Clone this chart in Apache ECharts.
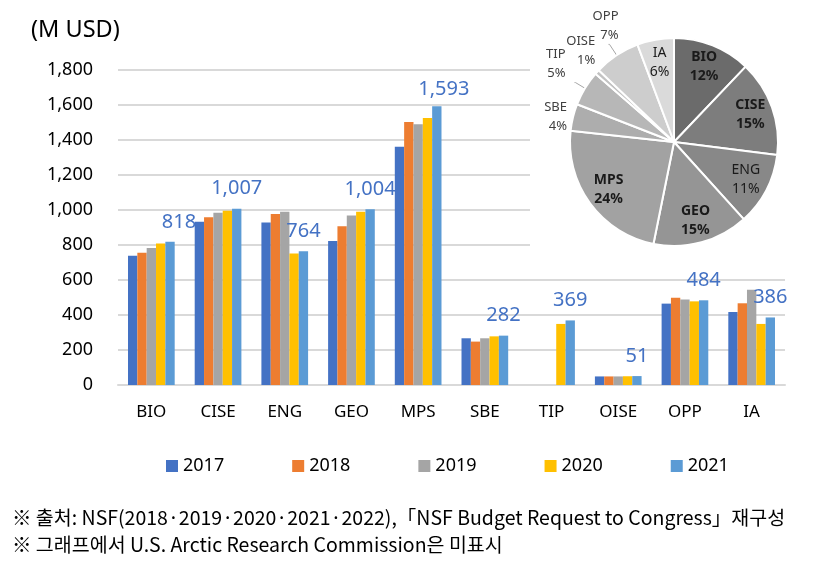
<!DOCTYPE html>
<html>
<head>
<meta charset="utf-8">
<script src="https://cdn.jsdelivr.net/npm/echarts@6/dist/echarts.min.js"></script>
<style>
html,body{margin:0;padding:0;background:#fff;}
#chart{width:830px;height:568px;}
</style>
</head>
<body>
<div id="chart"></div>
<script>
var categories = ['BIO','CISE','ENG','GEO','MPS','SBE','TIP','OISE','OPP','IA'];
var years = ['2017','2018','2019','2020','2021'];
var v2017 = [739, 933, 928, 823, 1362, 267, null, 49, 465, 417];
var v2018 = [756, 958, 977, 907, 1503, 248, null, 49, 499, 467];
var v2019 = [783, 985, 990, 968, 1490, 267, null, 49, 488, 545];
var v2020 = [808, 996, 751, 990, 1526, 278, 349, 50, 478, 349];
var v2021 = [818, 1007, 764, 1004, 1593, 282, 369, 51, 484, 386];
var yTicks = [0, 200, 400, 600, 800, 1000, 1200, 1400, 1600, 1800];
var footnote1 = '※ 출처: NSF(2018·2019·2020·2021·2022),「NSF Budget Request to Congress」재구성';
var footnote2 = '※ 그래프에서 U.S. Arctic Research Commission은 미표시';

var barColors = ['#4472C4','#ED7D31','#A5A5A5','#FFC000','#5B9BD5'];
var pieColors = ['#6b6b6b','#7d7d7d','#888888','#959595','#a2a2a2','#adadad','#b7b7b7','#c2c2c2','#cdcdcd','#dadada'];
var boldPie = {BIO:1, CISE:1, GEO:1, MPS:1};
// label placement styles for the small outside slices
var outsideStyle = {
  SBE:  { len: 2,  dist: 3,   dx: 0,  dy: 0,   va: 'middle', line: false },
  TIP:  { len: 11, dist: 9,   dx: 0,  dy: 0,   va: 'bottom', line: true },
  OISE: { len: 16, dist: 0,   dx: 11, dy: -10, va: 'middle', line: false },
  OPP:  { len: 13, dist: -10, dx: 0,  dy: 0,   va: 'bottom', line: true }
};
var labelShift = {0:[9,0], 4:[7,3]};

var FONT = '"Noto Sans", "Noto Sans CJK KR", sans-serif';
var allVals = [v2017, v2018, v2019, v2020, v2021];

function fmt(n){ return String(n).replace(/\B(?=(\d{3})+(?!\d))/g, ','); }

var series = allVals.map(function(vals, i){
  var s = {
    name: years[i], type: 'bar', data: vals,
    barGap: '0%', barCategoryGap: '30%',
    itemStyle: { color: barColors[i] },
    z: 3
  };
  if (i === 4) {
    s.data = vals.map(function(v, k){
      var d = { value: v };
      if (labelShift[k]) d.label = { offset: labelShift[k] };
      return d;
    });
    s.label = {
      show: true, position: 'top', distance: 10,
      color: '#4472C4', fontSize: 20, fontFamily: FONT,
      formatter: function(p){ return fmt(p.value); }
    };
  }
  return s;
});

var pieData = categories.map(function(c, k){
  return { name: c, value: v2021[k], itemStyle: { color: pieColors[k] } };
});

series.push({
  type: 'pie', name: 'share', center: [674, 142], radius: 104,
  startAngle: 90, clockwise: true, percentPrecision: 0, z: 5,
  silent: true, avoidLabelOverlap: false,
  itemStyle: { borderColor: '#fff', borderWidth: 2 },
  data: pieData.map(function(d){
    var o = Object.assign({}, d);
    var st = outsideStyle[d.name];
    if (st) {
      o.label = { show: true, distanceToLabelLine: st.dist };
      o.labelLine = { show: true, length: st.len, length2: 1,
        lineStyle: { opacity: st.line ? 1 : 0 } };
    } else {
      o.label = { show: false };
      o.labelLine = { show: false };
    }
    return o;
  }),
  label: {
    position: 'outside', formatter: '{b}\n{d}%', fontSize: 13, lineHeight: 19,
    color: '#404040', fontFamily: FONT
  },
  labelLine: { length: 12, length2: 1, minTurnAngle: 0, maxSurfaceAngle: 180,
    lineStyle: { color: '#a6a6a6', width: 1 } },
  labelLayout: function(p){
    var st = outsideStyle[categories[p.dataIndex]];
    var r = { hideOverlap: false, moveOverlap: null };
    if (st) {
      if (st.dx) r.dx = st.dx;
      if (st.dy) r.dy = st.dy;
      r.verticalAlign = st.va;
    }
    return r;
  }
});

series.push({
  type: 'pie', name: 'shareLabels', center: [674, 142], radius: [52, 104],
  startAngle: 90, clockwise: true, percentPrecision: 0, z: 6,
  silent: true,
  itemStyle: { color: 'rgba(0,0,0,0)', borderWidth: 0 },
  data: pieData.map(function(d){
    return {
      name: d.name, value: d.value,
      itemStyle: { color: 'rgba(0,0,0,0)' },
      label: { show: !outsideStyle[d.name], fontWeight: boldPie[d.name] ? 'bold' : 'normal' }
    };
  }),
  label: {
    position: 'inside', formatter: '{b}\n{d}%', fontSize: 14, lineHeight: 19,
    color: '#1a1a1a', fontFamily: FONT
  },
  labelLine: { show: false },
  labelLayout: { hideOverlap: false },
  emphasis: { disabled: true }
});

var chart = echarts.init(document.getElementById('chart'), null, { renderer: 'canvas' });
chart.setOption({
  animation: false,
  backgroundColor: '#fff',
  textStyle: { fontFamily: FONT },
  grid: { left: 118, right: 45, top: 70, bottom: 183, containLabel: false },
  legend: {
    data: years, left: 161, top: 452, icon: 'rect', itemWidth: 12, itemHeight: 12,
    itemGap: 68, textStyle: { fontSize: 18, color: '#000', fontFamily: FONT }
  },
  xAxis: {
    type: 'category', data: categories,
    axisLine: { lineStyle: { color: '#d9d9d9', width: 2 } },
    axisTick: { show: false },
    axisLabel: { color: '#000', fontSize: 17, margin: 19, fontFamily: FONT }
  },
  yAxis: {
    type: 'value', min: yTicks[0], max: yTicks[yTicks.length - 1], interval: yTicks[1] - yTicks[0],
    axisLine: { show: false }, axisTick: { show: false },
    splitLine: { lineStyle: { color: '#d9d9d9', width: 2 } },
    axisLabel: { color: '#000', fontSize: 18, margin: 25, fontFamily: FONT,
      formatter: function(v){ return fmt(v); } }
  },
  graphic: [
    { type: 'rect', shape: { x: 530, y: 0, width: 300, height: 262 }, style: { fill: '#fff' }, z: 1, silent: true },
    { type: 'text', left: 31, top: 19, style: { text: '(M USD)', font: '23.5px ' + FONT, fill: '#000' }, z: 10 },
    { type: 'text', left: 12, top: 508, style: { text: footnote1, font: '19.5px "Noto Sans CJK KR", sans-serif', fill: '#000' }, z: 10 },
    { type: 'text', left: 12, top: 535, style: { text: footnote2, font: '19.5px "Noto Sans CJK KR", sans-serif', fill: '#000' }, z: 10 }
  ],
  series: series
});
</script>
</body>
</html>
